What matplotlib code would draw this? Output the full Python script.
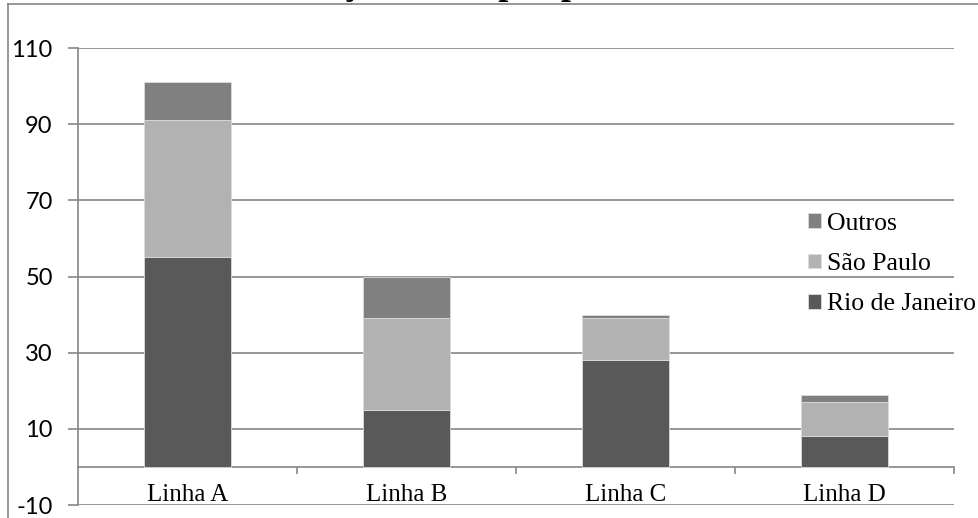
import numpy as np
import matplotlib.pyplot as plt
from matplotlib.lines import Line2D

plt.rcParams['axes.unicode_minus'] = False

# dados
categories = ['Linha A', 'Linha B', 'Linha C', 'Linha D']
rio = [55, 15, 28, 8]
sao_paulo = [36, 24, 11, 9]
outros = [10, 11, 1, 2]
series_names = ['Rio de Janeiro', 'São Paulo', 'Outros']
y_ticks = [-10, 10, 30, 50, 70, 90, 110]
title = 'Movimentação anual por procedência'

W, H = 979, 518
grey = '#868686'
colors = ['#595959', '#b2b2b2', '#808080']

fig = plt.figure(figsize=(W / 100, H / 100), dpi=100)
ax = fig.add_axes([78 / W, 13 / H, 876 / W, 457 / H])

x = np.arange(len(categories))
bottom = np.zeros(len(categories))
handles = []
for vals, name, c in zip([rio, sao_paulo, outros], series_names, colors):
    b = ax.bar(x, vals, 0.4, bottom=bottom, color=c, edgecolor='#dcdcdc',
               linewidth=0.6, label=name, zorder=3)
    bottom += np.array(vals)
    handles.append(b)

ax.set_xlim(-0.5, len(categories) - 0.5)
ax.set_ylim(-10, 110)
ax.set_yticks(y_ticks)
ax.grid(axis='y', color=grey, linewidth=1.2)
ax.set_axisbelow(True)

for s in ['top', 'right']:
    ax.spines[s].set_visible(False)
ax.spines['left'].set_color(grey)
ax.spines['left'].set_linewidth(1.2)
ax.spines['bottom'].set_position(('data', 0))
ax.spines['bottom'].set_color(grey)
ax.spines['bottom'].set_linewidth(1.2)

ax.tick_params(axis='y', length=7.2, width=1.2, color=grey, pad=11,
               labelsize=17, labelcolor='black')
for lab in ax.get_yticklabels():
    lab.set_family('Lato')

ax.set_xticks(x)
ax.set_xticklabels(categories, family='Liberation Serif', fontsize=18)
ax.tick_params(axis='x', which='major', length=0, pad=12.5)
ax.set_xticks(list(x[1:] - 0.5) + [len(categories) - 0.5], minor=True)
ax.tick_params(axis='x', which='minor', length=5, width=1.2, color=grey)

ax.legend(handles[::-1], series_names[::-1], loc='center left',
          bbox_to_anchor=(808 / W, 1 - 264 / H), bbox_transform=fig.transFigure,
          frameon=False, prop={'family': 'Liberation Serif', 'size': 18.5},
          handlelength=0.5, handleheight=0.5, handletextpad=0.25,
          labelspacing=0.72, borderpad=0, borderaxespad=0)

# moldura do gráfico (cortada)
fig.add_artist(Line2D([8 / W, 1], [1 - 4 / H, 1 - 4 / H], color=grey, lw=1.2,
                      transform=fig.transFigure))
fig.add_artist(Line2D([8 / W, 8 / W], [0, 1 - 4 / H], color=grey, lw=1.2,
                      transform=fig.transFigure))

# título cortado no topo
fig.text(456 / W, 1 + 6.0 / H, title, ha='center', va='baseline', fontsize=26,
         fontweight='bold', family='Liberation Serif')

fig.savefig('out.png', dpi=100)
